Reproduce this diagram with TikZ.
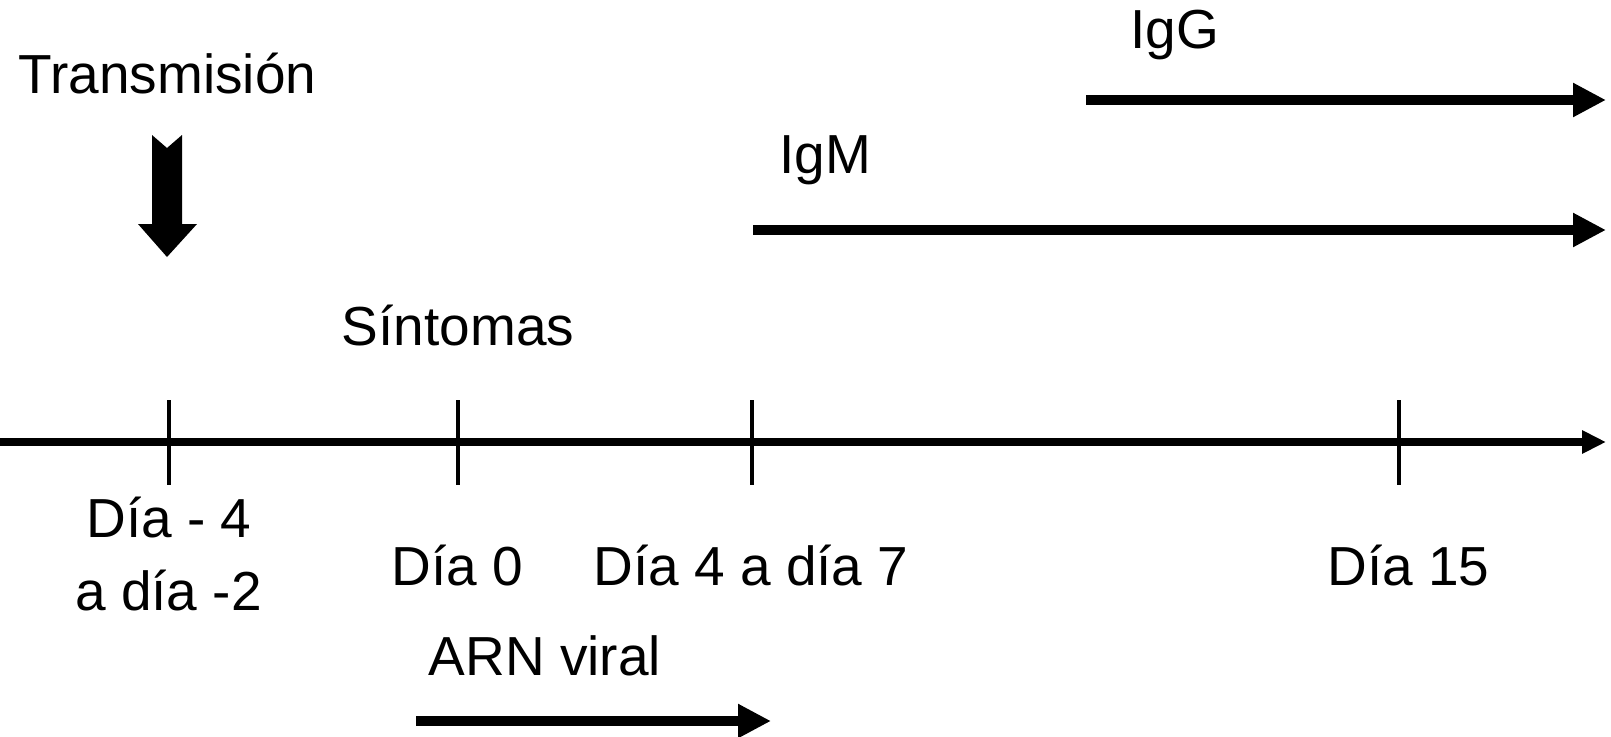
\documentclass[tikz,border=0pt]{standalone}
\usepackage{fontspec}
\setmainfont{Liberation Sans}
\usetikzlibrary{arrows.meta, positioning}

\tikzset{
  lbl/.style={anchor=base, inner sep=0pt, font=\fontsize{55}{66}\selectfont},
  eje/.style={line width=8pt, -{Triangle[length=24pt, width=22pt]}},
  marca/.style={line width=3.5pt},
  periodo/.style={line width=10pt, -{Triangle[length=33pt, width=32pt]}}
}

\begin{document}
\begin{tikzpicture}[x=1pt, y=-1pt]
        \useasboundingbox (0,0) rectangle (1611,736);

        % Eje de tiempo
        \coordinate (e0) at (0,442);
        \coordinate (e1) at (1606,442);
        \draw[eje] (e0) -- (e1);

        % Marcas del eje
        \foreach \nombre/\x in {m1/169, m2/458, m3/752, m4/1399} {
          \coordinate (\nombre a) at (\x,400);
          \coordinate (\nombre b) at (\x,485);
          \draw[marca] (\nombre a) -- (\nombre b);
        }

        % Etiquetas de los días
        \node[lbl] (d1) at (169,537) {Día - 4};
        \node[lbl] (d1b) at (168.5,610) {a día -2};
        \node[lbl] (d2) at (457.5,585) {Día 0};
        \node[lbl] (d3) at (751,585) {Día 4 a día 7};
        \node[lbl] (d4) at (1408.5,585) {Día 15};

        % Transmisión y flecha gruesa
        \node[lbl] (trans) at (167.5,93) {Transmisión};
        \fill[black] (152,135) -- (167,148) -- (182,135) -- (182,224) -- (197,224)
          -- (167,257) -- (138,224) -- (152,224) -- cycle;

        % Síntomas
        \node[lbl] (sint) at (458,345) {Síntomas};

        % IgG
        \node[lbl] (igg) at (1175,48) {IgG};
        \coordinate (g0) at (1086,100);
        \coordinate (g1) at (1606,100);
        \draw[periodo] (g0) -- (g1);

        % IgM
        \node[lbl] (igm) at (825.5,173) {IgM};
        \coordinate (h0) at (753,230);
        \coordinate (h1) at (1606,230);
        \draw[periodo] (h0) -- (h1);

        % ARN viral
        \node[lbl] (arn) at (545,675) {ARN viral};
        \coordinate (r0) at (416,721);
        \coordinate (r1) at (771,721);
        \draw[periodo] (r0) -- (r1);
      \end{tikzpicture}
\end{document}
